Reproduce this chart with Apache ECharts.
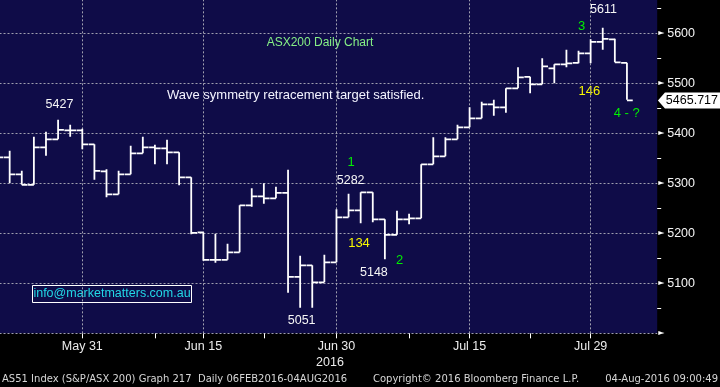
<!DOCTYPE html>
<html><head><meta charset="utf-8">
<script src="https://cdn.jsdelivr.net/npm/echarts@6.0.0/dist/echarts.min.js"></script>
<style>html,body{margin:0;padding:0;background:#000}#c{width:720px;height:387px}</style>
</head><body><div id="c"></div>
<script>
// Trading days (ASX), May 20 .. Aug 5 2016
const dates = ['May 20','May 23','May 24','May 25','May 26','May 27','May 30','May 31',
 'Jun 1','Jun 2','Jun 3','Jun 6','Jun 7','Jun 8','Jun 9','Jun 10','Jun 14','Jun 15','Jun 16','Jun 17',
 'Jun 20','Jun 21','Jun 22','Jun 23','Jun 24','Jun 27','Jun 28','Jun 29','Jun 30',
 'Jul 1','Jul 4','Jul 5','Jul 6','Jul 7','Jul 8','Jul 11','Jul 12','Jul 13','Jul 14','Jul 15',
 'Jul 18','Jul 19','Jul 20','Jul 21','Jul 22','Jul 25','Jul 26','Jul 27','Jul 28','Jul 29',
 'Aug 1','Aug 2','Aug 3','Aug 4','Aug 5'];
const opens = [5345,5352,5318,5297,5372,5388,5406,5406,5378,5324,
 5278,5318,5360,5372,5370,5362,5312,5202,5147,5147,
 5162,5256,5274,5270,5281,5113,5136,5102,5142,5232,
 5246,5282,5228,5197,5228,5230,5338,5354,5388,5412,
 5430,5458,5452,5490,5513,5498,5530,5538,5541,5560,
 5583,5588,5541];
const highs = [5360,5365,5325,5393,5403,5427,5417,5409,5378,5328,
 5325,5375,5393,5377,5387,5362,5312,5202,5199,5179,
 5256,5290,5300,5293,5327,5155,5136,5157,5248,5279,
 5282,5282,5228,5245,5239,5338,5392,5392,5417,5452,
 5463,5467,5490,5532,5513,5550,5538,5567,5565,5588,
 5611,5589,5541];
const lows = [5338,5300,5297,5297,5355,5388,5393,5368,5307,5272,
 5278,5318,5360,5338,5338,5296,5198,5145,5141,5147,
 5162,5253,5259,5270,5081,5051,5051,5102,5142,5232,
 5220,5222,5148,5197,5218,5230,5338,5354,5388,5412,
 5430,5435,5441,5490,5480,5498,5500,5532,5540,5540,
 5567,5542,5467];
const closes = [5352,5318,5297,5372,5388,5407,5406,5378,5325,5278,
 5318,5360,5372,5370,5362,5312,5201,5147,5147,5162,
 5256,5274,5270,5281,5113,5136,5102,5142,5232,5246,
 5282,5228,5197,5228,5230,5338,5354,5388,5412,5430,
 5458,5452,5490,5512,5498,5534,5538,5540,5560,5583,
 5589,5542,5465.717];

const labelDates = ['May 31','Jun 15','Jun 30','Jul 15','Jul 29'];
const tickDates = ['May 31','Jun 8','Jun 15','Jun 22','Jun 30','Jul 8','Jul 15','Jul 22','Jul 29'];
const yearLabel = {date:'Jun 30', text:'2016'};
const yMin = 5000, yMax = 5700, yStep = 100;

// value callouts anchored on bars
const callouts = [
  {date:'May 27', value:5427, dx:1.4, dy:-15},
  {date:'Jul 4', value:5282, dx:-10, dy:-12},
  {date:'Jul 6', value:5148, dx:-11, dy:13},
  {date:'Jun 27', value:5051, dx:1.5, dy:13},
  {date:'Aug 1', value:5611, dx:0.7, dy:-18}
];
const lastClose = closes[closes.length-1];
const lastDate = dates[closes.length-1];

const ohlc = closes.map((c,i)=>[i, opens[i], highs[i], lows[i], c]);

const chart = echarts.init(document.getElementById('c'), null, {renderer:'canvas'});
const AR = '"Liberation Sans", Arial, sans-serif';
const GREEN = '#00f000', YELLOW = '#f8f800';

chart.setOption({
  backgroundColor:'#000',
  animation:false,
  grid:{left:-8.48, right:62.8, top:-16.67, bottom:53.67, containLabel:false, outerBoundsMode:'none',
        show:true, backgroundColor:'#0f0c48', borderWidth:0},
  xAxis:{
    type:'category', data:dates, boundaryGap:true,
    axisLine:{show:false},
    axisTick:{show:true, alignWithLabel:true, length:5, interval:(i,v)=>tickDates.includes(v), lineStyle:{color:'#ffffff', width:1}},
    axisLabel:{
      interval:(i,v)=>labelDates.includes(v), margin:5,
      formatter:v=> v===yearLabel.date ? '{a|'+v+'}\n{y|'+yearLabel.text+'}' : '{a|'+v+'}',
      rich:{
        a:{color:'#ececec', fontSize:12.5, fontFamily:AR, lineHeight:16},
        y:{color:'#ececec', fontSize:12.5, fontFamily:AR, lineHeight:16, padding:[0,13,0,0]}
      }
    },
    splitLine:{show:false}
  },
  yAxis:{
    type:'value', position:'right', min:yMin, max:yMax, interval:yStep,
    axisLine:{show:false}, axisTick:{show:false},
    minorTick:{show:true, splitNumber:2, length:4, lineStyle:{color:'#ffffff', width:1}},
    splitLine:{show:true, lineStyle:{color:'#a0a0b0', type:[2,2], width:1}},
    axisLabel:{
      margin:1,
      formatter:v=> v===yMin ? '{a|►}' : '{a|►}{b|'+v+'}',
      rich:{
        a:{color:'#ffffff', fontSize:8, fontFamily:'"DejaVu Sans"', width:8, verticalAlign:'middle', lineHeight:14},
        b:{color:'#f4f4f4', fontSize:12.5, fontFamily:AR, verticalAlign:'middle', lineHeight:14, padding:[0,0,0,1]}
      }
    }
  },
  series:[
    {
      type:'line', data:[], silent:true, z:1,
      markLine:{
        silent:true, symbol:'none', z:1, animation:false,
        label:{show:false},
        lineStyle:{color:'#a0a0b0', type:[2,2], width:1},
        data: labelDates.map(d=>({xAxis:d}))
      },
      markPoint:{
        silent:true, z:10, animation:false,
        data: callouts.map(c=>({
          coord:[c.date, c.value], value:c.value,
          symbol:'circle', symbolSize:1, itemStyle:{color:'transparent'},
          label:{show:true, position:'inside', offset:[c.dx, c.dy], color:'#f6f6f6', fontSize:12.5, fontFamily:AR, formatter:p=>String(p.value)}
        })).concat([{
          coord:[lastDate, lastClose], value:lastClose,
          symbol:'path://M0,8L7,0L64,0L64,16L7,16Z', symbolSize:[64,16], symbolOffset:[63,0], symbolKeepAspect:false,
          itemStyle:{color:'#ffffff'},
          label:{show:true, position:'inside', offset:[2,0], color:'#000', fontSize:12.5, fontFamily:AR, formatter:p=>p.value.toFixed(3)}
        }])
      }
    },
    {
      type:'custom', z:3, clip:true,
      data: ohlc,
      encode:{x:0, y:[1,2,3,4]},
      renderItem:(params, api)=>{
        const x = api.value(0);
        const pO = api.coord([x, api.value(1)]);
        const pH = api.coord([x, api.value(2)]);
        const pL = api.coord([x, api.value(3)]);
        const pC = api.coord([x, api.value(4)]);
        const half = api.size([1,0])[0]*0.48;
        const st = {stroke:'#ffffff', lineWidth:1.8};
        return {type:'group', children:[
          {type:'line', shape:{x1:pH[0], y1:pH[1], x2:pL[0], y2:pL[1]}, style:st},
          {type:'line', shape:{x1:pO[0]-half, y1:pO[1], x2:pO[0], y2:pO[1]}, style:st},
          {type:'line', shape:{x1:pC[0], y1:pC[1], x2:pC[0]+half, y2:pC[1]}, style:st}
        ]};
      }
    }
  ],
  graphic:[
    {type:'text', silent:true, style:{x:320, y:43, text:'ASX200 Daily Chart', fill:'#86f086', font:'12px '+AR, align:'center', verticalAlign:'middle'}},
    {type:'text', silent:true, style:{x:167, y:95, text:'Wave symmetry retracement target satisfied.', fill:'#f4f4ff', font:'13px '+AR, align:'left', verticalAlign:'middle'}},
    {type:'text', silent:true, style:{x:351, y:162, text:'1', fill:GREEN, font:'13px '+AR, align:'center', verticalAlign:'middle'}},
    {type:'text', silent:true, style:{x:359, y:243, text:'134', fill:YELLOW, font:'13px '+AR, align:'center', verticalAlign:'middle'}},
    {type:'text', silent:true, style:{x:399.5, y:260, text:'2', fill:GREEN, font:'13px '+AR, align:'center', verticalAlign:'middle'}},
    {type:'text', silent:true, style:{x:581.5, y:26, text:'3', fill:GREEN, font:'13px '+AR, align:'center', verticalAlign:'middle'}},
    {type:'text', silent:true, style:{x:589.3, y:91, text:'146', fill:YELLOW, font:'13px '+AR, align:'center', verticalAlign:'middle'}},
    {type:'text', silent:true, style:{x:626.7, y:113, text:'4 - ?', fill:GREEN, font:'13px '+AR, align:'center', verticalAlign:'middle'}},
    {type:'rect', silent:true, shape:{x:32.5, y:285.5, width:159, height:17}, style:{fill:'none', stroke:'#ffffff', lineWidth:1}},
    {type:'text', silent:true, style:{x:112, y:294, text:'info@marketmatters.com.au', fill:'#22d8e6', font:'12.5px '+AR, align:'center', verticalAlign:'middle'}},
    {type:'text', silent:true, style:{x:2, y:379, text:'AS51 Index (S&P/ASX 200) Graph 217  Daily 06FEB2016-04AUG2016', fill:'#d6d6d6', font:'10px "DejaVu Sans"', align:'left', verticalAlign:'middle'}},
    {type:'text', silent:true, style:{x:373, y:379, text:'Copyright\u00a9 2016 Bloomberg Finance L.P.', fill:'#d6d6d6', font:'10px "DejaVu Sans"', align:'left', verticalAlign:'middle'}},
    {type:'text', silent:true, style:{x:718, y:379, text:'04-Aug-2016 09:00:49', fill:'#d6d6d6', font:'10px "DejaVu Sans"', align:'right', verticalAlign:'middle'}}
  ]
});
</script>
</body></html>
